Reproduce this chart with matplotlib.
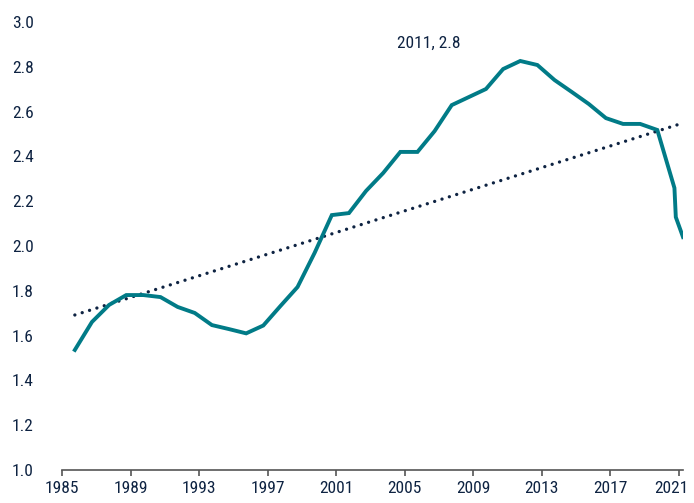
import matplotlib
matplotlib.use("Agg")
import matplotlib.pyplot as plt
import matplotlib.transforms as mtrans
from matplotlib import font_manager

# values (annual, dated late in the year, plus two recent readings)
years = [1985.75, 1986.75, 1987.75, 1988.75, 1989.75, 1990.75, 1991.75, 1992.75,
         1993.75, 1994.75, 1995.75, 1996.75, 1997.75, 1998.75, 1999.75, 2000.75,
         2001.75, 2002.75, 2003.75, 2004.75, 2005.75, 2006.75, 2007.75, 2008.75,
         2009.75, 2010.75, 2011.75, 2012.75, 2013.75, 2014.75, 2015.75, 2016.75,
         2017.75, 2018.75, 2019.75, 2020.75, 2020.83, 2021.25]
values = [1.536, 1.661, 1.737, 1.781, 1.781, 1.772, 1.728, 1.701,
          1.647, 1.629, 1.610, 1.645, 1.732, 1.817, 1.970, 2.138,
          2.147, 2.246, 2.326, 2.420, 2.420, 2.513, 2.629, 2.665,
          2.701, 2.790, 2.826, 2.808, 2.741, 2.688, 2.634, 2.571,
          2.545, 2.545, 2.518, 2.259, 2.129, 2.040]

# dotted trend line, start and end values as shown
trend_x = [1985.75, 2021.25]
trend_y = [1.692, 2.549]

xticks = [1985, 1989, 1993, 1997, 2001, 2005, 2009, 2013, 2017, 2021]
yticks = [1.0, 1.2, 1.4, 1.6, 1.8, 2.0, 2.2, 2.4, 2.6, 2.8, 3.0]
peak_label = "2011, 2.8"
peak_label_pos = (2006.4, 2.906)

teal = "#017b87"
navy = "#0e2342"

avail = set(f.name for f in font_manager.fontManager.ttflist)
font = "DejaVu Sans"
for cand in ["Liberation Sans Narrow", "Roboto Condensed", "Roboto", "Liberation Sans"]:
    if cand in avail:
        font = cand
        break
plt.rcParams["font.family"] = [font, "DejaVu Sans"]

fig = plt.figure(figsize=(6.94, 5.03), dpi=100)
ax = fig.add_axes([62 / 694, 1 - 470 / 503, (683 - 62) / 694, (470 - 22) / 503])

ax.plot(years, values, color=teal, lw=2.8, solid_joinstyle="miter", zorder=3)
ax.plot(trend_x, trend_y, color=navy, lw=2.4, linestyle=(0, (0.01, 2.3)),
        dash_capstyle="round", zorder=2)

ax.text(peak_label_pos[0], peak_label_pos[1], peak_label, ha="center", va="center",
        fontsize=12.5, color=navy)

ax.set_xlim(1985, 2021.25)
ax.set_ylim(1.0, 3.0)
ax.set_xticks(xticks)
ax.set_xticklabels([str(t) for t in xticks])
ax.set_yticks(yticks)
ax.set_yticklabels(["%.1f" % v for v in yticks])

for s in ["top", "right", "left"]:
    ax.spines[s].set_visible(False)
ax.spines["bottom"].set_color("#555555")
ax.spines["bottom"].set_linewidth(1.2)
ax.tick_params(axis="x", direction="out", length=4, width=1.2, color="#555555",
               labelsize=12.5, labelcolor=navy, pad=4)
ax.tick_params(axis="y", length=0, labelsize=12.5, labelcolor=navy, pad=36)
for lab in ax.get_yticklabels():
    lab.set_horizontalalignment("left")

# nudge the last year label so it stays inside the picture
last = ax.get_xticklabels()[-1]
last.set_transform(last.get_transform() + mtrans.ScaledTranslation(-5 / 72, 0, fig.dpi_scale_trans))

fig.savefig("out.png", dpi=100)
